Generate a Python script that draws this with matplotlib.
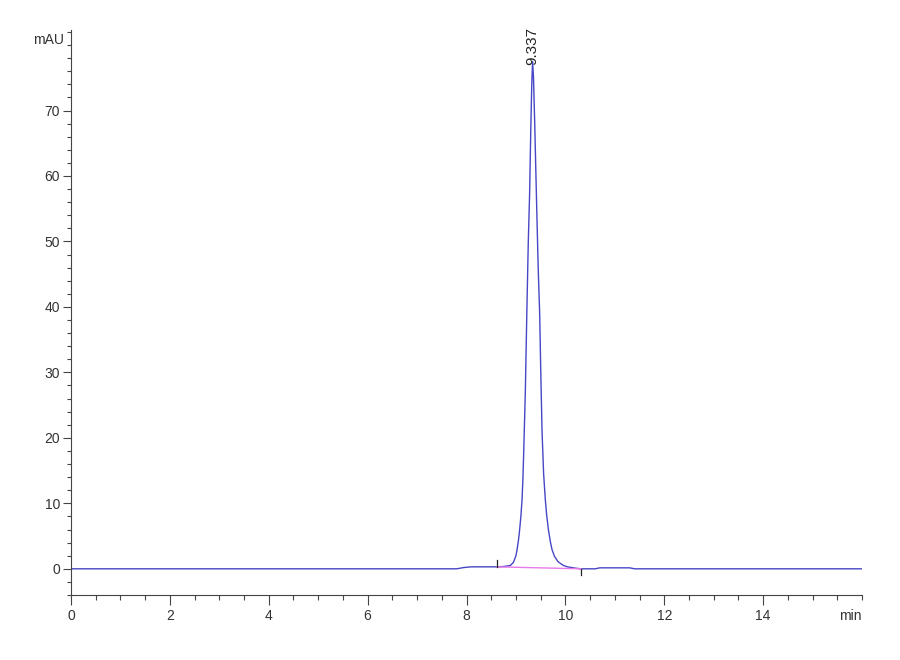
import numpy as np
import matplotlib.pyplot as plt
from matplotlib.ticker import MultipleLocator

# trace (time in min, signal in mAU)
time_min = [0.0, 7.80, 7.95, 8.10, 8.60, 8.75, 8.887, 8.95, 9.0, 9.022, 9.05,
            9.07, 9.10, 9.123, 9.14, 9.156, 9.19, 9.22, 9.25, 9.277, 9.30,
            9.32, 9.337, 9.355, 9.38, 9.413, 9.45, 9.48, 9.50, 9.528, 9.56,
            9.595, 9.62, 9.66, 9.70, 9.731, 9.78, 9.85, 9.95, 10.04, 10.20,
            10.32, 10.60, 10.70, 11.30, 11.40, 16.0]
signal_mau = [0.0, 0.0, 0.2, 0.3, 0.3, 0.35, 0.5, 1.0, 2.0, 2.9, 4.3,
              5.6, 8.0, 10.5, 13.5, 17.5, 27.0, 39.0, 50.0, 57.4, 67.0,
              74.0, 77.5, 75.0, 68.0, 57.4, 46.0, 39.0, 31.0, 21.0, 14.5,
              10.5, 8.3, 5.8, 4.0, 2.9, 1.9, 1.1, 0.55, 0.3, 0.1,
              0.0, 0.0, 0.15, 0.15, 0.0, 0.0]

# integration baseline and peak label
base_t = [8.62, 10.32]
base_y = [0.3, 0.0]
peak_rt = 9.337
peak_h = 77.5

plt.rcParams['font.family'] = ['Liberation Sans', 'DejaVu Sans']

fig = plt.figure(figsize=(9, 6.6), dpi=100)
ax = fig.add_axes([71/900, 1-595/660, (862-71)/900, (595-30)/660])

ax.plot(time_min, signal_mau, color='#4646c6', lw=1.0)
ax.plot(base_t, base_y, color='#e87ae8', lw=1.0)
# start / end markers of the integration
ax.plot([base_t[0], base_t[0]], [base_y[0], base_y[0]+1.1], color='#222222', lw=0.9)
ax.plot([base_t[1], base_t[1]], [base_y[1], base_y[1]-1.0], color='#222222', lw=0.9)

ax.text(peak_rt, peak_h - 0.5, f'{peak_rt:.3f}', rotation=90, ha='center',
        va='bottom', fontsize=11, color='#222222')

ax.set_xlim(0, 16)
ax.set_ylim(-4, 82.3)
ax.spines['top'].set_visible(False)
ax.spines['right'].set_visible(False)
for s in ['left', 'bottom']:
    ax.spines[s].set_color('#444444')
    ax.spines[s].set_linewidth(0.8)

ax.set_xticks(np.arange(0, 15, 2))
ax.set_yticks(np.arange(0, 71, 10))
ax.xaxis.set_minor_locator(MultipleLocator(0.5))
ax.yaxis.set_minor_locator(MultipleLocator(2))
ax.tick_params(which='both', width=0.8, color='#444444',
               labelsize=10, labelcolor='#333333')
ax.tick_params(axis='x', which='major', length=7, pad=3)
ax.tick_params(axis='x', which='minor', length=3.6)
ax.tick_params(axis='y', which='major', length=5.8, pad=2)
ax.tick_params(axis='y', which='minor', length=2.9)

ax.text(-0.15, 80.8, 'mAU', ha='right', va='center', fontsize=10, color='#333333')
ax.annotate('min', xy=(16, -4), xytext=(0, -10), textcoords='offset points',
            ha='right', va='top', fontsize=10, color='#333333')

fig.savefig('out.png', dpi=100)
